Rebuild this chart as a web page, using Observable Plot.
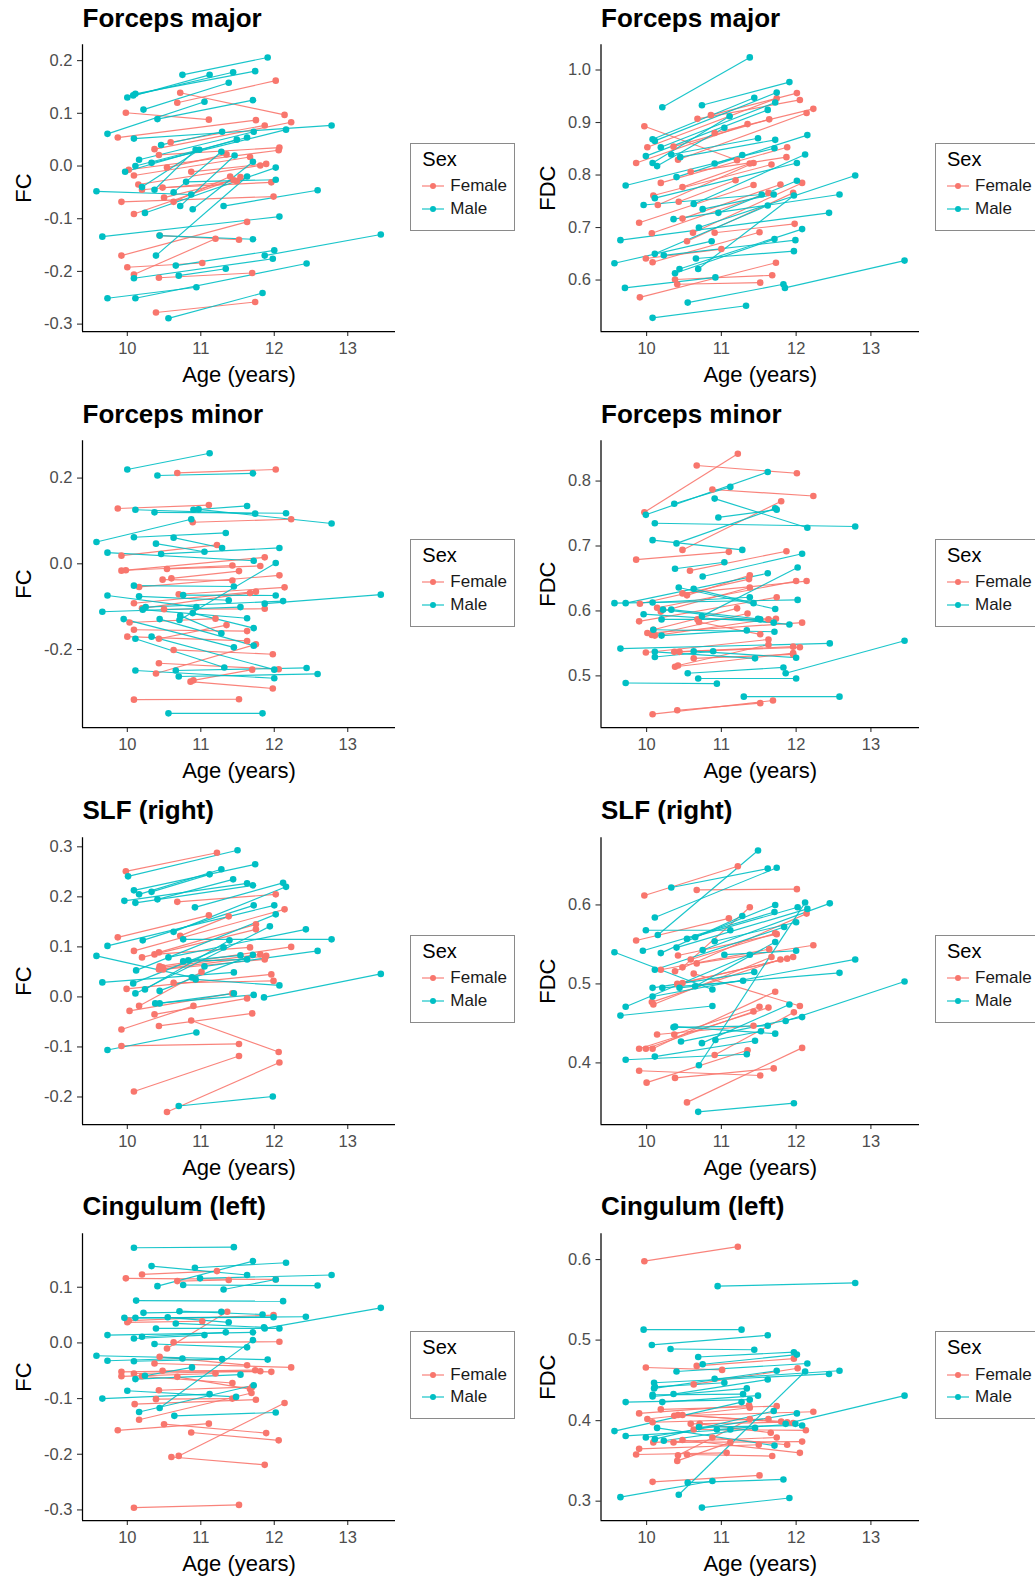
<!DOCTYPE html>
<html><head><meta charset="utf-8">
<script src="https://cdn.jsdelivr.net/npm/d3@7"></script>
<script src="https://cdn.jsdelivr.net/npm/@observablehq/plot@0.6"></script>
<style>
body{margin:0;background:#fff;font-family:"Liberation Sans",Arial,sans-serif;}
#page{position:relative;width:1035px;height:1585px;overflow:hidden;background:#fff;}
.panel{position:absolute;width:517.5px;height:396.25px;}
.title{position:absolute;top:4.7px;font-weight:bold;font-size:26px;line-height:26px;color:#000;white-space:nowrap;}
.plot{position:absolute;top:36px;left:0;}
.legend{position:absolute;border:1px solid #8a8a8a;background:#fff;width:105px;height:88px;box-sizing:border-box;}
.legend .lt{position:absolute;left:11px;top:5px;font-size:20px;line-height:20px;color:#000;}
.legend .li{position:absolute;left:11px;height:14px;}
.legend .li svg{position:absolute;left:0;top:0;}
.legend .li span{position:absolute;left:28px;top:-3px;font-size:17px;line-height:20px;color:#1a1a1a;white-space:nowrap;}
g[aria-label="x-axis tick label"], g[aria-label="y-axis tick label"]{fill:#4d4d4d;}
g[aria-label="x-axis label"], g[aria-label="y-axis label"]{fill:#000;font-size:22px;}
</style>
</head><body><div id="page"></div>
<script>
// ---- data: [age at scan 1, value 1, age at scan 2, value 2] ----
const sexes = ["Female", "Male"];
const sexColors = ["#F8766D", "#00BFC4"];
const xTicks = [10, 11, 12, 13];

const fmaj_FC_F = [
[10.72,0.139,12.14,0.097],[10.68,0.120,12.02,0.162],[9.98,0.101,11.11,0.088],[9.87,0.054,11.75,0.087],
[10.59,0.045,11.87,0.077],[10.37,0.032,12.23,0.083],[10.43,0.021,12.07,0.035],[10.02,-0.007,12.06,0.030],
[10.09,-0.018,11.67,0.017],[10.54,-0.003,11.35,0.022],[10.87,-0.011,11.89,0.004],[10.15,-0.035,11.81,0.001],
[10.20,-0.045,11.49,-0.029],[10.48,-0.041,11.96,-0.031],[9.92,-0.068,11.99,-0.058],[10.50,-0.060,11.45,-0.027],
[10.09,-0.091,11.54,-0.021],[10.63,-0.068,11.40,-0.020],[10.44,-0.132,11.52,-0.140],[9.92,-0.170,11.63,-0.106],
[10.00,-0.192,11.02,-0.184],[10.09,-0.206,11.20,-0.138],[10.43,-0.212,11.70,-0.203],[10.39,-0.278,11.74,-0.258]];
const fmaj_FC_M = [
[10.75,0.173,11.91,0.206],[10.00,0.130,11.12,0.173],[10.08,0.134,11.44,0.178],[10.11,0.137,11.74,0.180],
[10.22,0.107,11.38,0.158],[10.41,0.089,11.71,0.125],[9.73,0.061,11.05,0.122],[10.09,0.052,12.78,0.077],
[10.46,0.040,11.29,0.065],[10.16,0.012,11.72,0.065],[10.33,0.006,12.16,0.069],[9.97,-0.011,11.49,0.050],
[10.11,0.000,11.63,0.054],[10.20,-0.040,10.98,0.031],[10.37,-0.045,10.93,0.031],[10.63,-0.050,11.28,0.027],
[10.72,-0.076,11.46,0.020],[10.89,-0.082,11.71,0.008],[10.24,-0.089,12.02,-0.003],[9.58,-0.048,10.87,-0.054],
[9.66,-0.134,12.07,-0.096],[10.44,-0.132,11.71,-0.139],[10.39,-0.170,11.63,-0.020],[10.66,-0.189,12.00,-0.160],
[10.70,-0.208,11.34,-0.195],[10.09,-0.213,11.98,-0.176],[9.73,-0.251,10.94,-0.230],[10.11,-0.251,12.44,-0.185],
[10.56,-0.289,11.84,-0.241],[11.31,-0.076,12.59,-0.046],[11.87,-0.170,13.45,-0.130],[10.80,-0.030,12.02,-0.026]];

const fmaj_FDC_F = [
[9.97,0.893,11.21,0.828],[10.01,0.853,11.74,0.946],[9.86,0.823,11.35,0.897],[10.36,0.854,11.64,0.906],
[10.68,0.907,12.05,0.943],[10.86,0.914,12.01,0.956],[10.91,0.880,12.23,0.926],[10.42,0.829,12.14,0.918],
[10.19,0.785,11.88,0.853],[10.59,0.806,11.87,0.834],[10.09,0.761,11.67,0.820],[10.15,0.743,11.43,0.823],
[10.48,0.777,11.38,0.822],[10.43,0.749,11.19,0.790],[9.90,0.709,11.43,0.781],[10.48,0.717,11.79,0.782],
[10.07,0.689,11.63,0.766],[10.62,0.690,12.08,0.785],[10.54,0.674,11.96,0.766],[10.91,0.690,11.98,0.707],
[9.99,0.641,11.00,0.659],[10.08,0.634,11.51,0.691],[10.38,0.601,11.68,0.609],[10.41,0.592,11.52,0.595],
[9.91,0.567,11.73,0.633]];
const fmaj_FDC_M = [
[10.21,0.929,11.38,1.024],[10.74,0.933,11.91,0.977],[10.08,0.868,11.44,0.947],[10.11,0.865,11.74,0.957],
[10.19,0.853,11.72,0.938],[9.99,0.836,11.62,0.924],[10.08,0.823,11.11,0.912],[10.14,0.817,11.04,0.890],
[10.33,0.839,11.49,0.870],[10.45,0.834,11.72,0.867],[9.72,0.780,11.71,0.851],[10.40,0.796,12.15,0.876],
[10.91,0.822,11.28,0.838],[10.11,0.756,12.01,0.823],[9.96,0.743,11.54,0.763],[10.63,0.745,12.12,0.839],
[10.75,0.735,11.70,0.763],[10.96,0.728,12.01,0.789],[10.36,0.716,12.58,0.763],[10.70,0.700,12.79,0.799],
[9.65,0.676,12.44,0.728],[9.57,0.632,10.87,0.674],[10.11,0.650,11.62,0.742],[10.23,0.647,11.99,0.676],
[10.38,0.613,11.71,0.678],[10.44,0.621,12.08,0.697],[10.66,0.641,11.97,0.655],[10.69,0.621,11.97,0.761],
[9.71,0.585,10.92,0.605],[10.08,0.528,11.33,0.551],[10.55,0.557,11.83,0.592],[11.85,0.585,13.45,0.637]];

const fmin_FC_F = [
[10.68,0.212,12.02,0.220],[9.87,0.129,11.11,0.137],[10.89,0.097,12.23,0.104],[9.92,0.019,11.22,0.044],
[9.92,-0.016,11.87,0.015],[9.98,-0.015,11.43,-0.004],[10.54,-0.012,11.81,-0.005],[10.60,-0.034,11.52,-0.017],
[10.48,-0.037,11.43,-0.039],[10.16,-0.054,12.07,-0.027],[10.70,-0.071,12.14,-0.055],[10.09,-0.092,11.75,-0.065],
[10.20,-0.104,11.67,-0.068],[10.50,-0.106,11.87,-0.105],[10.03,-0.137,11.20,-0.128],[10.09,-0.154,11.63,-0.157],
[10.00,-0.170,11.63,-0.180],[10.43,-0.175,11.35,-0.143],[10.63,-0.201,11.98,-0.211],[10.43,-0.232,12.06,-0.246],
[10.39,-0.256,11.75,-0.188],[10.86,-0.275,11.98,-0.291],[10.90,-0.272,11.70,-0.247],[10.09,-0.317,11.52,-0.316]];
const fmin_FC_M = [
[10.00,0.220,11.12,0.258],[10.41,0.206,11.71,0.211],[10.11,0.126,11.74,0.117],[10.37,0.120,12.16,0.118],
[10.90,0.126,11.63,0.135],[10.97,0.127,12.78,0.094],[9.58,0.051,10.87,0.104],[10.09,0.062,11.34,0.072],
[10.63,0.061,11.29,0.037],[10.39,0.047,11.05,0.028],[9.73,0.026,11.72,0.007],[10.46,0.023,12.07,0.037],
[10.09,-0.051,11.45,-0.053],[10.76,-0.073,12.02,-0.074],[10.16,-0.076,11.38,-0.085],[9.73,-0.074,10.94,-0.101],
[9.66,-0.112,11.54,-0.101],[11.87,-0.093,13.45,-0.072],[10.25,-0.101,12.12,-0.087],[10.21,-0.107,11.63,-0.127],
[10.89,-0.115,11.72,-0.150],[10.72,-0.121,11.28,-0.162],[10.71,-0.131,12.02,0.002],[10.44,-0.129,11.72,-0.191],
[9.95,-0.129,11.45,-0.195],[10.11,-0.175,11.32,-0.242],[10.11,-0.249,12.00,-0.267],[10.66,-0.249,12.44,-0.243],
[10.70,-0.263,12.59,-0.257],[10.33,-0.170,12.00,-0.247],[10.56,-0.349,11.84,-0.349]];

const fmin_FDC_F = [
[9.97,0.752,11.22,0.842],[10.67,0.824,12.01,0.812],[10.88,0.787,12.23,0.777],[10.48,0.694,11.80,0.769],
[9.86,0.679,11.10,0.691],[10.58,0.662,11.87,0.692],[10.48,0.627,12.14,0.646],[10.54,0.624,11.38,0.655],
[9.91,0.611,11.37,0.649],[10.14,0.605,12.00,0.646],[10.19,0.599,11.38,0.636],[9.90,0.584,11.74,0.621],
[10.01,0.566,12.08,0.582],[10.09,0.571,11.21,0.604],[10.07,0.563,11.35,0.596],[10.11,0.562,11.63,0.587],
[10.68,0.587,11.73,0.588],[10.70,0.583,11.52,0.564],[10.37,0.537,11.96,0.545],[10.44,0.537,12.05,0.544],
[9.99,0.536,11.63,0.556],[10.38,0.514,11.96,0.535],[10.42,0.516,11.63,0.548],[10.63,0.527,11.96,0.533],
[10.08,0.441,11.69,0.462],[10.41,0.447,11.52,0.458]];
const fmin_FDC_M = [
[9.99,0.748,11.62,0.814],[10.37,0.765,11.12,0.791],[10.91,0.773,12.15,0.728],[10.11,0.735,12.79,0.730],
[10.96,0.744,11.74,0.756],[10.40,0.704,11.72,0.758],[10.08,0.709,11.28,0.694],[10.38,0.665,11.04,0.675],
[10.75,0.653,12.08,0.688],[10.43,0.636,11.72,0.603],[9.57,0.612,12.02,0.617],[9.72,0.612,11.62,0.658],
[10.08,0.613,11.38,0.621],[10.63,0.634,11.43,0.612],[10.22,0.602,11.91,0.579],[10.33,0.602,11.49,0.588],
[9.96,0.595,11.70,0.582],[10.20,0.587,11.52,0.587],[10.09,0.571,11.71,0.568],[10.20,0.562,11.34,0.570],
[10.74,0.592,12.02,0.667],[9.65,0.542,12.45,0.550],[10.11,0.537,11.45,0.527],[10.11,0.529,10.89,0.538],
[10.63,0.538,12.00,0.528],[10.55,0.504,11.83,0.513],[10.69,0.496,12.00,0.496],[9.72,0.489,10.94,0.488],
[11.30,0.468,12.58,0.468],[11.86,0.504,13.45,0.554]];

const slf_FC_F = [
[9.98,0.251,11.22,0.288],[10.68,0.190,12.02,0.205],[9.87,0.119,11.11,0.163],[10.72,0.122,11.38,0.161],
[10.09,0.092,12.14,0.175],[10.43,0.089,11.75,0.145],[10.20,0.079,11.75,0.135],[10.37,0.085,11.67,0.099],
[10.44,0.061,12.23,0.100],[10.48,0.059,11.81,0.085],[10.43,0.055,11.89,0.082],[10.49,0.055,11.87,0.075],
[9.99,0.016,11.96,0.045],[10.03,-0.028,11.43,0.007],[10.16,-0.018,11.01,0.050],[10.37,-0.035,11.63,-0.003],
[10.43,-0.058,11.70,-0.033],[9.92,-0.065,10.90,-0.018],[9.92,-0.098,11.52,-0.094],[10.87,-0.047,12.06,-0.110],
[10.09,-0.189,11.52,-0.118],[10.54,-0.230,12.07,-0.131],[10.63,0.028,11.99,0.032]];
const slf_FC_M = [
[10.01,0.241,11.50,0.293],[10.09,0.213,11.74,0.265],[10.16,0.205,11.28,0.255],[10.33,0.210,11.12,0.245],
[10.41,0.195,11.44,0.235],[9.96,0.192,11.63,0.227],[10.11,0.188,11.71,0.223],[10.92,0.179,12.12,0.228],
[10.63,0.130,12.16,0.220],[10.21,0.113,11.72,0.183],[9.73,0.102,12.00,0.183],[9.58,0.082,10.88,0.039],
[10.12,0.053,12.02,0.165],[10.08,0.027,11.31,0.099],[10.24,0.015,11.39,0.113],[10.11,0.007,11.94,0.141],
[10.44,0.012,11.71,0.084],[10.56,0.079,12.43,0.135],[10.76,0.115,12.78,0.115],[10.76,0.071,11.63,0.075],
[10.83,0.073,11.54,0.083],[11.05,0.061,12.59,0.092],[10.93,0.035,12.07,0.023],[9.66,0.029,11.45,0.049],
[10.38,-0.013,11.72,0.004],[10.44,-0.013,11.45,0.007],[9.73,-0.106,10.94,-0.071],[10.70,-0.218,11.98,-0.199],
[11.86,-0.001,13.45,0.046]];

const slf_FDC_F = [
[9.97,0.612,11.22,0.649],[10.67,0.619,12.01,0.620],[9.86,0.555,11.10,0.583],[10.48,0.521,11.38,0.597],
[10.42,0.536,11.74,0.563],[10.59,0.531,11.72,0.564],[10.19,0.518,11.64,0.544],[10.38,0.516,12.14,0.589],
[10.67,0.526,12.23,0.549],[10.41,0.500,11.88,0.532],[10.48,0.501,11.96,0.534],[10.07,0.477,11.79,0.531],
[10.09,0.474,11.67,0.534],[10.37,0.436,11.51,0.471],[10.14,0.436,11.43,0.447],[9.90,0.418,11.63,0.470],
[9.99,0.418,11.43,0.465],[10.08,0.418,11.72,0.490],[10.91,0.410,11.97,0.464],[10.38,0.381,11.70,0.393],
[9.90,0.390,11.52,0.384],[10.00,0.375,11.35,0.416],[10.54,0.350,12.08,0.419],[10.63,0.513,12.05,0.472]];
const slf_FDC_M = [
[10.33,0.622,11.62,0.646],[10.11,0.584,11.74,0.647],[10.15,0.562,11.49,0.669],[9.99,0.568,11.12,0.568],
[9.95,0.542,11.71,0.591],[10.19,0.539,11.28,0.586],[10.54,0.557,12.02,0.597],[10.65,0.559,11.72,0.600],
[10.40,0.546,12.15,0.595],[10.75,0.543,12.45,0.602],[10.11,0.518,11.84,0.572],[10.91,0.554,12.00,0.578],
[11.04,0.537,12.00,0.542],[9.57,0.540,10.88,0.493],[9.72,0.471,11.38,0.537],[9.65,0.460,10.88,0.472],
[10.08,0.484,12.79,0.531],[10.08,0.495,11.44,0.515],[10.21,0.495,12.58,0.514],[10.44,0.495,11.29,0.504],
[10.65,0.497,11.72,0.553],[11.86,0.453,13.45,0.503],[10.38,0.446,11.72,0.437],[10.36,0.445,11.62,0.447],
[10.46,0.427,12.08,0.458],[10.74,0.425,11.91,0.474],[10.92,0.429,11.53,0.440],[10.11,0.408,11.45,0.428],
[9.72,0.404,11.34,0.411],[10.69,0.338,11.97,0.349],[10.70,0.397,12.12,0.603]];

const cing_FC_F = [
[10.20,0.123,11.22,0.129],[9.98,0.116,12.02,0.114],[10.68,0.111,11.38,0.113],[10.00,0.037,11.02,0.039],
[10.02,0.040,11.99,0.050],[10.63,0.001,12.07,0.002],[10.54,-0.010,11.36,0.056],[10.44,-0.025,11.63,-0.040],
[10.37,-0.037,12.23,-0.044],[9.92,-0.052,11.74,-0.049],[10.09,-0.055,11.81,-0.051],[10.48,-0.050,11.96,-0.052],
[9.92,-0.060,11.20,-0.055],[10.20,-0.060,11.43,-0.072],[10.68,-0.061,11.67,-0.083],[10.43,-0.085,11.70,-0.079],
[10.39,-0.101,11.43,-0.100],[10.10,-0.110,11.75,-0.102],[10.16,-0.138,11.69,-0.090],[9.87,-0.157,11.11,-0.145],
[10.50,-0.146,11.89,-0.162],[10.87,-0.161,12.06,-0.175],[10.70,-0.203,12.14,-0.108],[10.60,-0.205,11.87,-0.219],
[10.09,-0.296,11.52,-0.291]];
const cing_FC_M = [
[10.09,0.171,11.45,0.172],[10.33,0.138,11.63,0.122],[10.92,0.135,12.16,0.144],[10.41,0.102,11.71,0.147],
[10.76,0.104,12.59,0.103],[10.99,0.116,12.78,0.122],[11.31,0.096,12.02,0.114],[10.12,0.076,12.12,0.075],
[10.71,0.057,11.84,0.051],[10.22,0.054,11.28,0.056],[9.96,0.045,11.99,0.046],[10.11,0.045,12.43,0.047],
[10.55,0.046,11.38,0.037],[10.66,0.035,11.86,0.028],[10.39,0.026,12.07,0.026],[11.87,0.026,13.45,0.063],
[9.73,0.014,11.71,0.019],[10.09,0.008,11.05,0.014],[10.20,0.011,11.34,0.019],[10.37,-0.002,11.63,-0.008],
[9.58,-0.023,11.91,-0.030],[9.73,-0.032,10.75,-0.028],[10.09,-0.033,11.29,-0.029],[10.11,-0.065,11.54,-0.057],
[10.24,-0.059,10.88,-0.044],[10.00,-0.086,11.48,-0.097],[9.66,-0.100,11.12,-0.092],[10.44,-0.117,11.71,0.005],
[10.16,-0.124,11.72,-0.076],[10.64,-0.131,12.02,-0.125]];

const cing_FDC_F = [
[9.97,0.598,11.22,0.616],[9.99,0.466,11.01,0.463],[10.67,0.468,11.97,0.477],[10.63,0.445,12.02,0.465],
[9.90,0.409,11.37,0.419],[10.19,0.414,11.74,0.418],[10.37,0.406,12.23,0.411],[10.01,0.402,11.38,0.416],
[10.08,0.398,11.63,0.402],[10.42,0.407,11.80,0.399],[10.48,0.407,11.96,0.397],[10.59,0.396,11.88,0.398],
[10.71,0.396,11.66,0.385],[10.63,0.389,12.13,0.388],[10.09,0.373,11.74,0.379],[10.36,0.373,12.08,0.374],
[10.48,0.376,12.05,0.360],[10.88,0.379,11.88,0.370],[9.90,0.365,11.50,0.370],[9.86,0.358,11.07,0.360],
[10.42,0.357,11.38,0.402],[10.41,0.350,11.12,0.373],[10.54,0.358,11.68,0.356],[10.08,0.324,11.51,0.332]];
const cing_FDC_M = [
[9.96,0.513,11.27,0.513],[10.07,0.494,11.62,0.506],[10.32,0.489,11.44,0.488],[10.69,0.479,11.97,0.485],
[10.75,0.470,12.01,0.482],[10.40,0.461,12.15,0.471],[10.10,0.447,12.44,0.458],[10.11,0.442,11.04,0.447],
[10.10,0.440,11.74,0.462],[10.91,0.452,12.58,0.462],[10.36,0.433,11.62,0.451],[10.08,0.432,11.29,0.433],
[10.08,0.430,11.34,0.440],[9.72,0.423,11.38,0.426],[10.21,0.423,11.49,0.431],[9.57,0.387,11.27,0.423],
[9.72,0.381,11.12,0.389],[9.99,0.379,12.01,0.409],[10.11,0.377,11.70,0.412],[10.23,0.375,11.45,0.391],
[10.70,0.392,12.08,0.394],[10.94,0.389,11.99,0.396],[10.14,0.391,11.71,0.369],[11.86,0.396,13.45,0.431],
[10.43,0.308,12.12,0.461],[9.65,0.305,10.88,0.325],[10.55,0.323,11.83,0.327],[10.74,0.292,11.91,0.304],
[10.95,0.567,12.79,0.571]];

const titles = ["Forceps major","Forceps major","Forceps minor","Forceps minor","SLF (right)","SLF (right)","Cingulum (left)","Cingulum (left)"];
const measures = ["FC","FDC","FC","FDC","FC","FDC","FC","FDC"];
const femaleSets = [fmaj_FC_F,fmaj_FDC_F,fmin_FC_F,fmin_FDC_F,slf_FC_F,slf_FDC_F,cing_FC_F,cing_FDC_F];
const maleSets = [fmaj_FC_M,fmaj_FDC_M,fmin_FC_M,fmin_FDC_M,slf_FC_M,slf_FDC_M,cing_FC_M,cing_FDC_M];
const yTickSets = [[-0.3,-0.2,-0.1,0,0.1,0.2],[0.6,0.7,0.8,0.9,1.0],[-0.2,0,0.2],[0.5,0.6,0.7,0.8],
  [-0.2,-0.1,0,0.1,0.2,0.3],[0.4,0.5,0.6],[-0.3,-0.2,-0.1,0,0.1],[0.3,0.4,0.5,0.6]];
const yDomains = [[-0.314,0.230],[0.502,1.048],[-0.382,0.287],[0.4205,0.862],[-0.255,0.318],[0.322,0.685],[-0.319,0.196],[0.276,0.632]];
const xDomain = [9.39, 13.65];

const page = document.getElementById("page");
const PW = 517.5, PH = 396.25;

titles.forEach((title, i) => {
  const col = i % 2, row = Math.floor(i / 2);
  const panel = document.createElement("div");
  panel.className = "panel";
  panel.style.left = (col * PW) + "px";
  panel.style.top = (row * PH) + "px";
  page.appendChild(panel);

  const t = document.createElement("div");
  t.className = "title";
  t.style.left = (col ? 83.5 : 82.5) + "px";
  t.textContent = title;
  panel.appendChild(t);

  const rows = [];
  [femaleSets[i], maleSets[i]].forEach((set, s) => set.forEach(d =>
    rows.push({sex: sexes[s], a1: d[0], v1: d[1], a2: d[2], v2: d[3]})));
  const pts = rows.flatMap(r => [{sex: r.sex, age: r.a1, v: r.v1}, {sex: r.sex, age: r.a2, v: r.v2}]);

  const ml = col ? 82.5 : 82;
  const chart = Plot.plot({
    width: col ? 406 : 400,
    height: 360,
    marginLeft: ml, marginRight: 5, marginTop: 8.3, marginBottom: 65,
    style: {fontFamily: "'Liberation Sans', Arial, sans-serif", fontSize: "16.5px", background: "transparent", overflow: "visible"},
    x: {domain: xDomain},
    y: {domain: yDomains[i]},
    color: {domain: sexes, range: sexColors},
    marks: [
      Plot.axisX({ticks: xTicks, tickFormat: d => String(d), tickSize: 5, tickPadding: 6, stroke: "#333", strokeWidth: 1.1,
        label: "Age (years)", labelAnchor: "center", labelOffset: 50, labelArrow: "none"}),
      Plot.axisY({ticks: yTickSets[i], tickFormat: d => d.toFixed(1), tickSize: 5, tickPadding: 5, stroke: "#333", strokeWidth: 1.1,
        label: measures[i], labelAnchor: "center", labelOffset: col ? 61.3 : 67.6, labelArrow: "none"}),
      Plot.ruleX([xDomain[0]], {stroke: "#000", strokeWidth: 1.25}),
      Plot.ruleY([yDomains[i][0]], {stroke: "#000", strokeWidth: 1.25}),
      Plot.link(rows, {x1: "a1", y1: "v1", x2: "a2", y2: "v2", stroke: "sex", strokeWidth: 1.15, strokeOpacity: 0.9}),
      Plot.dot(pts, {x: "age", y: "v", fill: "sex", r: 3.3})
    ]
  });
  chart.classList.add("plot");
  panel.appendChild(chart);

  const lg = document.createElement("div");
  lg.className = "legend";
  lg.style.left = (col ? 417.5 : 410.3) + "px";
  lg.style.top = "142.5px";
  let html = '<div class="lt">Sex</div>';
  sexes.forEach((s, k) => {
    html += '<div class="li" style="top:' + (k ? 58 : 35.3) + 'px"><svg width="22" height="14">' +
      '<line x1="0" x2="22" y1="7" y2="7" stroke="' + sexColors[k] + '" stroke-width="1.1"/>' +
      '<circle cx="11" cy="7" r="3" fill="' + sexColors[k] + '"/></svg><span>' + s + '</span></div>';
  });
  lg.innerHTML = html;
  panel.appendChild(lg);
});
</script>
</body></html>
